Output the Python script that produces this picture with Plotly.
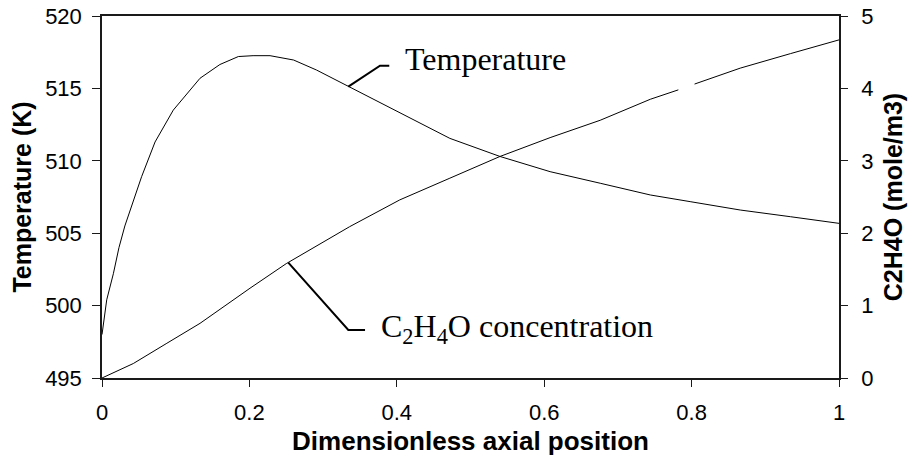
import plotly.graph_objects as go

# Axial temperature profile (K)
pos_temp = [0, 0.0064, 0.0154, 0.023, 0.031, 0.0425, 0.0537, 0.072, 0.0967, 0.133,
            0.160, 0.185, 0.205, 0.228, 0.26, 0.291, 0.336, 0.382, 0.427, 0.472,
            0.540, 0.608, 0.676, 0.744, 0.798, 0.866, 0.934, 1.0]
temperature = [498.0, 500.4, 502.2, 504.0, 505.5, 507.2, 508.9, 511.3, 513.5, 515.7,
               516.65, 517.2, 517.26, 517.26, 516.96, 516.27, 515.1, 513.85, 512.7, 511.55,
               510.3, 509.25, 508.45, 507.64, 507.18, 506.6, 506.14, 505.68]

# Axial ethylene oxide concentration (mole/m3); None leaves a break in the line
pos_conc = [0, 0.0425, 0.088, 0.133, 0.2008, 0.25, 0.336, 0.404, 0.472, 0.540,
            0.608, 0.676, 0.744, 0.782, 0.793, 0.804, 0.866, 0.934, 1.0]
concentration = [0.0, 0.20, 0.48, 0.755, 1.24, 1.58, 2.09, 2.46, 2.76, 3.06,
                  3.32, 3.56, 3.85, 3.98, None, 4.06, 4.28, 4.48, 4.67]

x_ticks = [0, 0.2, 0.4, 0.6, 0.8, 1]
temp_ticks = [495, 500, 505, 510, 515, 520]
conc_ticks = [0, 1, 2, 3, 4, 5]

SANS = "Liberation Sans, Arial, sans-serif"
SERIF = "Liberation Serif, Times New Roman, serif"
AX = "#1a1a1a"

fig = go.Figure()
fig.add_trace(go.Scatter(x=pos_temp, y=temperature, mode="lines",
                         line=dict(color="black", width=1), yaxis="y",
                         showlegend=False, hoverinfo="skip"))
fig.add_trace(go.Scatter(x=pos_conc, y=concentration, mode="lines",
                         line=dict(color="black", width=1), yaxis="y2",
                         connectgaps=False, showlegend=False, hoverinfo="skip"))

# leader lines for the curve labels
fig.add_shape(type="path", xref="x", yref="y",
              path="M 0.3342,515.12 L 0.3772,516.57 L 0.3898,516.57",
              line=dict(color="black", width=2))
fig.add_shape(type="path", xref="x", yref="y2",
              path="M 0.2528,1.593 L 0.3342,0.663 L 0.3569,0.663",
              line=dict(color="black", width=2))

fig.add_annotation(x=0.409, y=517.02, xref="x", yref="y", text="Temperature",
                   showarrow=False, xanchor="left", yanchor="middle",
                   font=dict(family=SERIF, size=32, color="black"))
fig.add_annotation(x=0.376, y=0.68, xref="x", yref="y2",
                   text="C<sub>2</sub>H<sub>4</sub>O concentration",
                   showarrow=False, xanchor="left", yanchor="middle",
                   font=dict(family=SERIF, size=32, color="black"))

fig.update_layout(
    width=908, height=457,
    margin=dict(l=102, r=69, t=16, b=79, autoexpand=False),
    paper_bgcolor="white", plot_bgcolor="white",
    font=dict(family=SANS, color="black"),
    xaxis=dict(range=[0, 1], tickvals=x_ticks, ticktext=[str(v) for v in x_ticks],
               ticks="outside", ticklen=7, tickwidth=1, tickcolor=AX,
               showline=True, linecolor=AX, linewidth=1.5, mirror=True,
               showgrid=False, zeroline=False, tickfont=dict(size=22),
               ticklabelstandoff=7, automargin=False,
               title=dict(text="<b>Dimensionless axial position</b>",
                          font=dict(size=26), standoff=8)),
    yaxis=dict(range=[495, 520], tickvals=temp_ticks,
               ticks="outside", ticklen=8, tickwidth=1, tickcolor=AX,
               showline=True, linecolor=AX, linewidth=1.5,
               showgrid=False, zeroline=False, tickfont=dict(size=22),
               ticklabelstandoff=6, automargin=False,
               title=dict(text="<b>Temperature (K)</b>", font=dict(size=25),
                          standoff=6)),
    yaxis2=dict(range=[0, 5], tickvals=conc_ticks, overlaying="y", side="right",
                ticks="outside", ticklen=7, tickwidth=1, tickcolor=AX,
                showline=True, linecolor=AX, linewidth=1.5,
                showgrid=False, zeroline=False, tickfont=dict(size=22),
                ticklabelstandoff=9, automargin=False,
                title=dict(text="<b>C2H4O (mole/m3)</b>", font=dict(size=25),
                           standoff=12)),
    yaxis3=dict(range=[0, 5], tickvals=conc_ticks, overlaying="y", side="right",
                ticks="inside", ticklen=7, tickwidth=1, tickcolor=AX,
                showticklabels=False, showline=False, automargin=False,
                showgrid=False, zeroline=False),
)

fig.write_html("out.html")
